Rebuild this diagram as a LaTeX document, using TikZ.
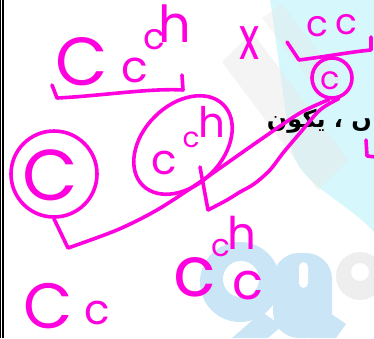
\documentclass[tikz,border=0pt]{standalone}
\usepackage{fontspec}
\usetikzlibrary{shapes.geometric}
\newfontfamily\hand{Poppins}
\newfontfamily\arabicfont[Script=Arabic]{DejaVu Sans}
\TeXXeTstate=1
\definecolor{ink}{RGB}{255,0,222}
\definecolor{wmcyan}{RGB}{214,247,251}
\definecolor{wmgrey}{RGB}{232,232,232}
\definecolor{wmblue}{RGB}{202,229,246}
\begin{document}
\begin{tikzpicture}[x=1pt,y=-1pt,
  pen/.style={draw=ink, line width=3.6pt, line cap=round, line join=round},
  gl/.style={text=ink, inner sep=0pt, font=\hand\fontsize{#1}{#1}\selectfont},
  ring/.style={draw=ink, line width=3.6pt, circle, inner sep=0pt},
]
\useasboundingbox (0,0) rectangle (374,338);
\clip (0,0) rectangle (374,338);
\fill[white] (0,0) rectangle (374,338);
% watermark
\fill[wmcyan] (270,0) -- (374,0) -- (374,232) .. controls (345,200) and (300,185) .. (292,150) .. controls (284,110) and (278,50) .. (270,0);
\fill[wmgrey, opacity=.45] (222,62) -- (252,32) -- (348,160) -- (318,190) -- cycle;
\fill[wmgrey, opacity=.35] (262,18) -- (282,4) -- (340,80) -- (320,94) -- cycle;
\fill[wmblue] (240,282) circle (40);
\fill[white] (241,279) circle (18);
\fill[wmblue, rounded corners=26] (273,338) -- (273,253) -- (332,253) -- (332,338) -- cycle;
\fill[white, rounded corners=5] (299,262) rectangle (308,288);
\fill[wmgrey, opacity=.7] (360,276) circle (24);
\fill[white] (360,272) circle (9);
\fill[wmblue] (232,338) -- (262,312) -- (282,326) -- (268,338) -- cycle;
\fill[wmblue] (310,338) -- (330,313) -- (346,324) -- (336,338) -- cycle;
% left border
\draw[black, line width=1.2pt] (0.7,0) -- (0.7,338);
\draw[black, line width=1.2pt] (2.9,0) -- (2.9,338);
% arabic text
\node[anchor=east, inner sep=0pt, font=\arabicfont\bfseries\fontsize{24}{24}\selectfont] (ar) at (372,121) {\beginR ں ، يكون\endR};
% top left genotype
\node[gl=68] (C1) at (82,62) {C};
\node[gl=44] (c1) at (135,70) {c};
\node[gl=36] (c1s) at (154,40) {c};
\node[gl=51] (h1s) at (175,24) {h};
\draw[pen] (52,85) -- (57,98) .. controls (100,96) and (150,88) .. (183,90) -- (182,75);
% cross
\node[gl=60, xscale=0.7] (cross) at (250,43) {x};
% top right genotype
\node[gl=36] (c2) at (317,27) {c};
\node[gl=36] (c3) at (346,25) {c};
\draw[pen] (287,42) -- (299,60) .. controls (330,56) and (350,52) .. (371,50) -- (371,37);
% gametes
\node[ring, minimum size=86pt] (bigC) at (54,174) {};
\node[gl=72] (gC) at (50,175) {C};
\node[draw=ink, line width=3.6pt, ellipse, minimum width=114pt, minimum height=80pt, rotate=45] (ell) at (183,145) {};
\node[gl=42] (gc) at (164,163) {c};
\node[gl=28] (gcs) at (191,140) {c};
\node[gl=42] (ghs) at (212,122) {h};
\node[ring, minimum size=40pt] (sc) at (332,78) {};
\node[gl=32] (gsc) at (330,81) {c};
% connectors
\coordinate (v1) at (68,248);
\coordinate (m0) at (200,167);
\coordinate (v2) at (208,210);
\draw[pen] (bigC.south) -- (v1) plot[smooth, tension=0.5] coordinates {(v1) (117,230) (157,210) (200,182) (260,140) (300,113) (sc.262)};
\draw[pen] (m0) -- (v2) plot[smooth, tension=0.55] coordinates {(v2) (227,200) (240,192) (254,184) (270,170) (283,153) (300,133) (320,110) (sc.288)};
\draw[pen] (366,140) -- (367,156) -- (376,157);
% offspring
\node[gl=64] (oC) at (48,306) {C};
\node[gl=42] (oc) at (97,313) {c};
\node[gl=70] (o2c) at (195,277) {c};
\node[gl=31] (o2cs) at (221,248) {c};
\node[gl=45] (o2hs) at (242,233) {h};
\node[gl=51] (o2c2) at (248,286) {c};
\end{tikzpicture}
\end{document}
